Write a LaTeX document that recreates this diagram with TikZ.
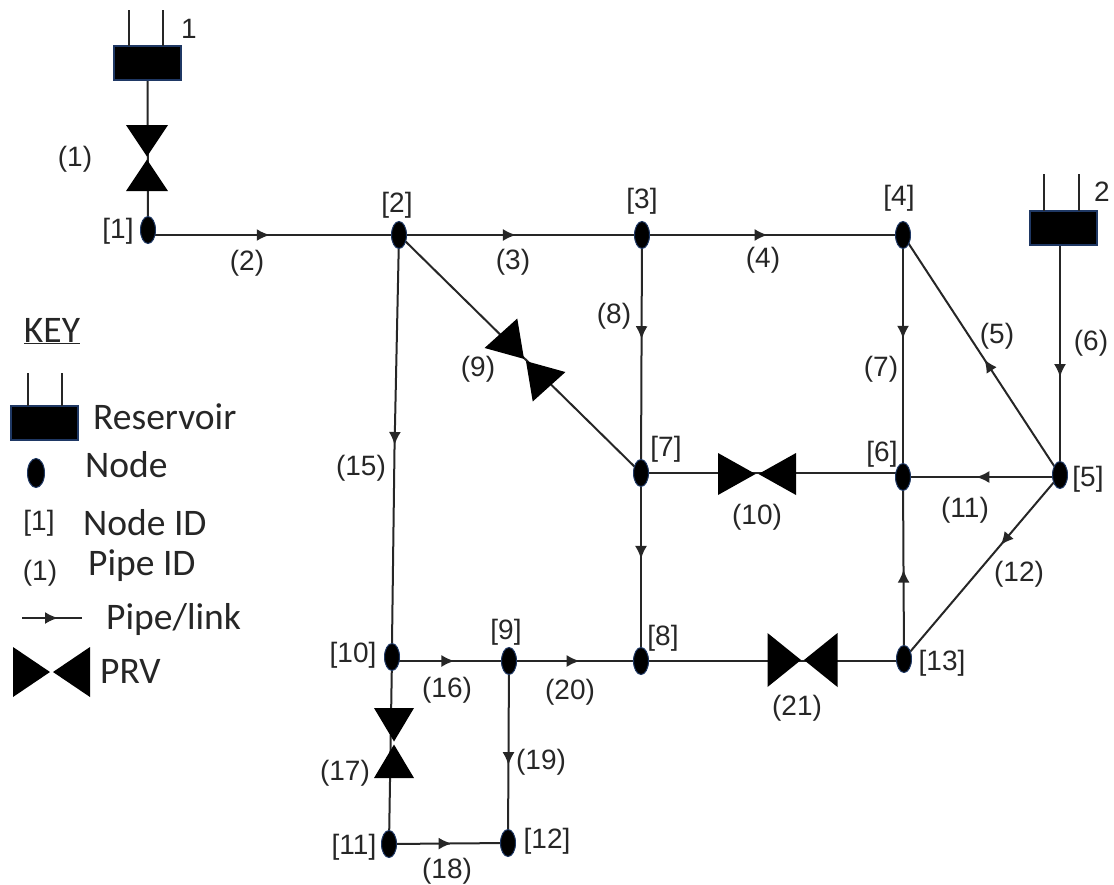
\documentclass[tikz,border=0pt]{standalone}
\usepackage{fontspec}
\setmainfont{Liberation Sans}
\newfontfamily\keyfont{Carlito}
\usetikzlibrary{positioning, arrows.meta}
\usetikzlibrary{shapes.geometric}
\usetikzlibrary{decorations.markings}
\usetikzlibrary{backgrounds}

\definecolor{rimBlue}{RGB}{31,56,100}
\definecolor{labelGrey}{RGB}{38,38,38}

\tikzset{
    junction/.style={draw=rimBlue, fill=black, line width=1pt, ellipse, inner sep=0pt, outer sep=0pt, minimum width=15pt, minimum height=27pt},
    reservoir/.style={draw=rimBlue, fill=black, line width=1.2pt, inner sep=0pt, outer sep=0pt, minimum width=67pt, minimum height=34pt},
    pipe/.style={draw=black!85, line width=2pt},
    flow/.style={pipe, postaction={decorate}, decoration={markings, mark=at position #1 with {\arrow{Latex[length=13pt,width=12pt]}}}},
    pipeid/.style={text=labelGrey, font=\fontsize{28}{28}\selectfont, inner sep=0pt, yshift=-2pt},
    keytext/.style={text=labelGrey, font=\keyfont\fontsize{37.5}{37.5}\selectfont, inner sep=0pt, anchor=west}
}

% Two black triangles meeting at their tips: {name}{centre}{rotation}{half length}{half width}
\newcommand{\prvsym}[5]{
    \coordinate (#1) at (#2);
    \begin{scope}[shift={(#1)}, rotate=#3]
        \fill[black] (-1.5,0) -- (-#4,#5) -- (-#4,-#5) -- cycle;
        \fill[black] (1.5,0) -- (#4,#5) -- (#4,-#5) -- cycle;
    \end{scope}
}

\begin{document}
\begin{tikzpicture}[x=1pt, y=-1pt]
        \useasboundingbox (0,0) rectangle (1114,884);

        %%% Network nodes
            \node[junction] (j1) at (148,230) {};
            \node[junction] (j2) at (399,235) {};
            \node[junction] (j3) at (642,235) {};
            \node[junction] (j4) at (903,235) {};
            \node[junction] (j5) at (1060,475) {};
            \node[junction] (j6) at (903,477) {};
            \node[junction] (j7) at (641,473) {};
            \node[junction] (j8) at (641,661) {};
            \node[junction] (j9) at (509,661) {};
            \node[junction] (j10) at (392,657) {};
            \node[junction] (j11) at (389,844) {};
            \node[junction] (j12) at (508,843) {};
            \node[junction] (j13) at (904,659) {};

        %%% Reservoirs
            \node[reservoir] (res1) at (147.5,63) {};
            \node[reservoir] (res2) at (1063.5,228) {};
            \coordinate (res1a) at (129,10);
            \coordinate (res1b) at (163,10);
            \coordinate (res2a) at (1044,174);
            \coordinate (res2b) at (1079,174);
            \draw[pipe] (res1a) -- (res1a |- res1.north);
            \draw[pipe] (res1b) -- (res1b |- res1.north);
            \draw[pipe] (res2a) -- (res2a |- res2.north);
            \draw[pipe] (res2b) -- (res2b |- res2.north);

        %%% Pipes
        \begin{scope}[on background layer]
            \draw[pipe] (res1) -- (j1);
            \draw[flow=0.5] (j1 |- j2) -- (j2);
            \draw[flow=0.48] (j2) -- (j3);
            \draw[flow=0.48] (j3) -- (j4);
            \draw[flow=0.48] (j5) -- (j4);
            \draw[flow=0.61] (res2.south -| j5) -- (j5);
            \draw[flow=0.42] (j4) -- (j6);
            \draw[flow=0.43] (j3) -- (j7);
            \draw[pipe] (j2) -- (j7);
            \draw[pipe] (j7) -- (j7 -| j6);
            \draw[flow=0.56] (j6 -| j5) -- (j6);
            \draw[flow=0.37] (j5) -- (j13);
            \draw[flow=0.49] (j13) -- (j6);
            \draw[flow=0.45] (j7) -- (j8);
            \draw[pipe] (j8) -- (j8 -| j13);
            \coordinate (bend15) at (394.5,449);
            \draw[flow=0.98] (j2) -- (bend15);
            \draw[pipe] (bend15) -- (j10.north);
            \draw[flow=0.57] (j10 |- j9) -- (j9);
            \draw[flow=0.54] (j9) -- (j8);
            \draw[flow=0.585] (j9) -- (j12);
            \draw[pipe] (j10) -- (j11);
            \draw[flow=0.53] (j11) -- (j12);
        \end{scope}

        %%% Valves
            \prvsym{prv1}{147,158}{90}{33}{21}
            \prvsym{prv9}{525,360}{-48}{36}{22}
            \prvsym{prv10}{757,474}{0}{39}{21}
            \prvsym{prv21}{802.5,660}{0}{35}{27}
            \prvsym{prv17}{394,743}{90}{35}{20}

        %%% Junction numbers
            \node[pipeid] (n1) at (118,229) {[1]};
            \node[pipeid] (n2) at (397,203) {[2]};
            \node[pipeid] (n3) at (642,199) {[3]};
            \node[pipeid] (n4) at (899,196) {[4]};
            \node[pipeid] (n5) at (1088,477) {[5]};
            \node[pipeid] (n6) at (882,452) {[6]};
            \node[pipeid] (n7) at (666,447) {[7]};
            \node[pipeid] (n8) at (663,636) {[8]};
            \node[pipeid] (n9) at (506,630) {[9]};
            \node[pipeid] (n10) at (353,653) {[10]};
            \node[pipeid] (n11) at (354,845) {[11]};
            \node[pipeid] (n12) at (547,839) {[12]};
            \node[pipeid] (n13) at (942,661) {[13]};
            \node[pipeid] (lab1) at (189,27) {1};
            \node[pipeid] (lab2) at (1102,190) {2};

        %%% Pipe numbers
            \node[pipeid] (p1) at (75,157) {(1)};
            \node[pipeid] (p2) at (247,261) {(2)};
            \node[pipeid] (p3) at (513,260) {(3)};
            \node[pipeid] (p4) at (763,258) {(4)};
            \node[pipeid] (p5) at (997,334) {(5)};
            \node[pipeid] (p6) at (1091,341) {(6)};
            \node[pipeid] (p7) at (881,367) {(7)};
            \node[pipeid] (p8) at (614,314) {(8)};
            \node[pipeid] (p9) at (478,367) {(9)};
            \node[pipeid] (p10) at (757,515) {(10)};
            \node[pipeid] (p11) at (965,508) {(11)};
            \node[pipeid] (p12) at (1019,572) {(12)};
            \node[pipeid] (p15) at (361,466) {(15)};
            \node[pipeid] (p16) at (447,688) {(16)};
            \node[pipeid] (p17) at (345,771) {(17)};
            \node[pipeid] (p18) at (447,869) {(18)};
            \node[pipeid] (p19) at (541,760) {(19)};
            \node[pipeid] (p20) at (570,690) {(20)};
            \node[pipeid] (p21) at (797,706) {(21)};

        %%% Key
            \node[keytext, anchor=center] (keyTitle) at (52,331) {\underline{KEY}};

            \node[reservoir] (keyRes) at (44.5,423) {};
            \coordinate (keyResa) at (28,373);
            \coordinate (keyResb) at (62,373);
            \draw[pipe] (keyResa) -- (keyResa |- keyRes.north);
            \draw[pipe] (keyResb) -- (keyResb |- keyRes.north);
            \node[keytext] (keyResText) at (93,417) {Reservoir};

            \node[junction, minimum width=17pt, minimum height=29pt] (keyNode) at (36,473) {};
            \node[keytext] (keyNodeText) at (85,465) {Node};

            \node[pipeid] (keyNum) at (39,521) {[1]};
            \node[keytext] (keyNumText) at (83,523) {Node ID};

            \node[pipeid] (keyPipe) at (40,571) {(1)};
            \node[keytext] (keyPipeText) at (88,566) {Pipe ID};

            \coordinate (keyLinkA) at (22,618);
            \coordinate (keyLinkB) at (82,618);
            \draw[flow=0.6] (keyLinkA) -- (keyLinkB);
            \node[keytext] (keyLinkText) at (106,619) {Pipe/link};

            \prvsym{keyPrv}{51.5,672}{0}{38.5}{25}
            \node[keytext] (keyPrvText) at (100,671) {PRV};
\end{tikzpicture}
\end{document}
